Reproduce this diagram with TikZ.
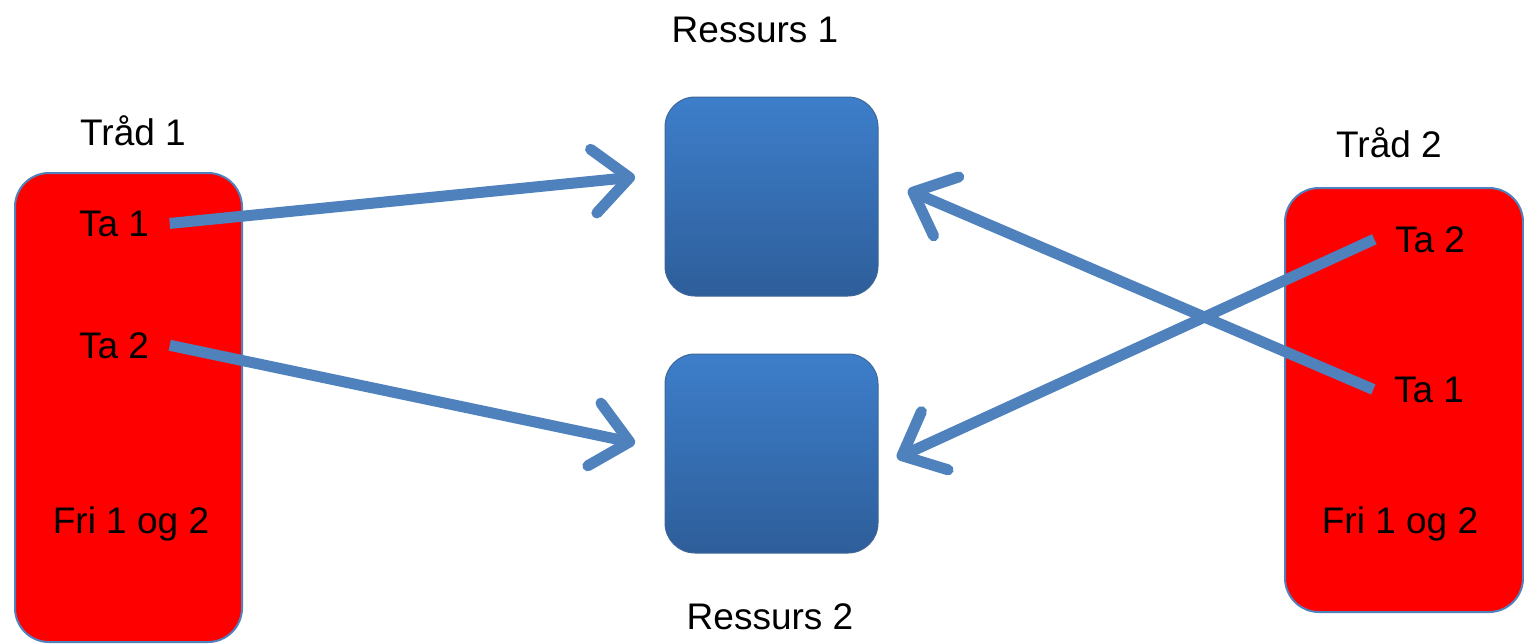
\documentclass[tikz,border=0pt]{standalone}
\usepackage{fontspec}
\setmainfont{Liberation Sans}
\usetikzlibrary{arrows.meta}
\definecolor{linkblue}{RGB}{79,129,189}
\definecolor{restop}{RGB}{61,126,202}
\definecolor{resbot}{RGB}{46,94,154}
\tikzset{every picture/.style={line width=0.75pt}}
\tikzset{
  thread/.style={draw=linkblue, line width=1pt, fill=red, rounded corners=17pt},
  resbox/.style={draw=linkblue!80!black, line width=0.5pt, top color=restop, bottom color=resbot,
    rounded corners=15pt, minimum width=106.5pt, minimum height=99.5pt},
  lbl/.style={font=\fontsize{18.5}{22}\selectfont, inner sep=10pt},
  link/.style={draw=linkblue, line width=5.5pt,
    -{Straight Barb[length=18pt,width=32pt,round]}}
}

\begin{document}
\begin{tikzpicture}[x=0.5pt,y=0.5pt,yscale=-1,xscale=1]
\useasboundingbox (0,0) rectangle (1524,643);

%Rounded Rect [id:thread1]
\node [thread, minimum width=113.5pt, minimum height=234.5pt] (trad1) at (128.5,407.5) {};
%Rounded Rect [id:thread2]
\node [thread, minimum width=119pt, minimum height=212pt] (trad2) at (1404,400) {};
%Rounded Rect [id:res1]
\node [resbox] (res1) at (771.5,196.5) {};
%Rounded Rect [id:res2]
\node [resbox] (res2) at (771.5,453.5) {};

% Text Node
\node [lbl, anchor=base] (res1lbl) at (755,42) {Ressurs 1};
% Text Node
\node [lbl, anchor=base] (res2lbl) at (770,629) {Ressurs 2};
% Text Node
\node [lbl, anchor=base] (trad1lbl) at (133,145) {Tråd 1};
% Text Node
\node [lbl, anchor=base] (trad2lbl) at (1389,157) {Tråd 2};
% Text Node
\node [lbl, anchor=base] (lta1) at (114,236) {Ta 1};
% Text Node
\node [lbl, anchor=base] (lta2) at (114,358) {Ta 2};
% Text Node
\node [lbl, anchor=base] (lfri) at (131,533) {Fri 1 og 2};
% Text Node
\node [lbl, anchor=base] (rta2) at (1430,252) {Ta 2};
% Text Node
\node [lbl, anchor=base] (rta1) at (1429,402) {Ta 1};
% Text Node
\node [lbl, anchor=base] (rfri) at (1400,533) {Fri 1 og 2};

%Arrow ends
\coordinate (res1w) at (635,177);
\coordinate (res2w) at (635,443);
\coordinate (res1e) at (908,190);
\coordinate (res2e) at (897,458);

%Straight Lines [id:ta1left]
\draw [link] (lta1.east) -- (res1w);
%Straight Lines [id:ta2left]
\draw [link] (lta2.east) -- (res2w);
%Straight Lines [id:ta1right]
\draw [link] (rta1.west) -- (res1e);
%Straight Lines [id:ta2right]
\draw [link] (rta2.west) -- (res2e);

\end{tikzpicture}
\end{document}
